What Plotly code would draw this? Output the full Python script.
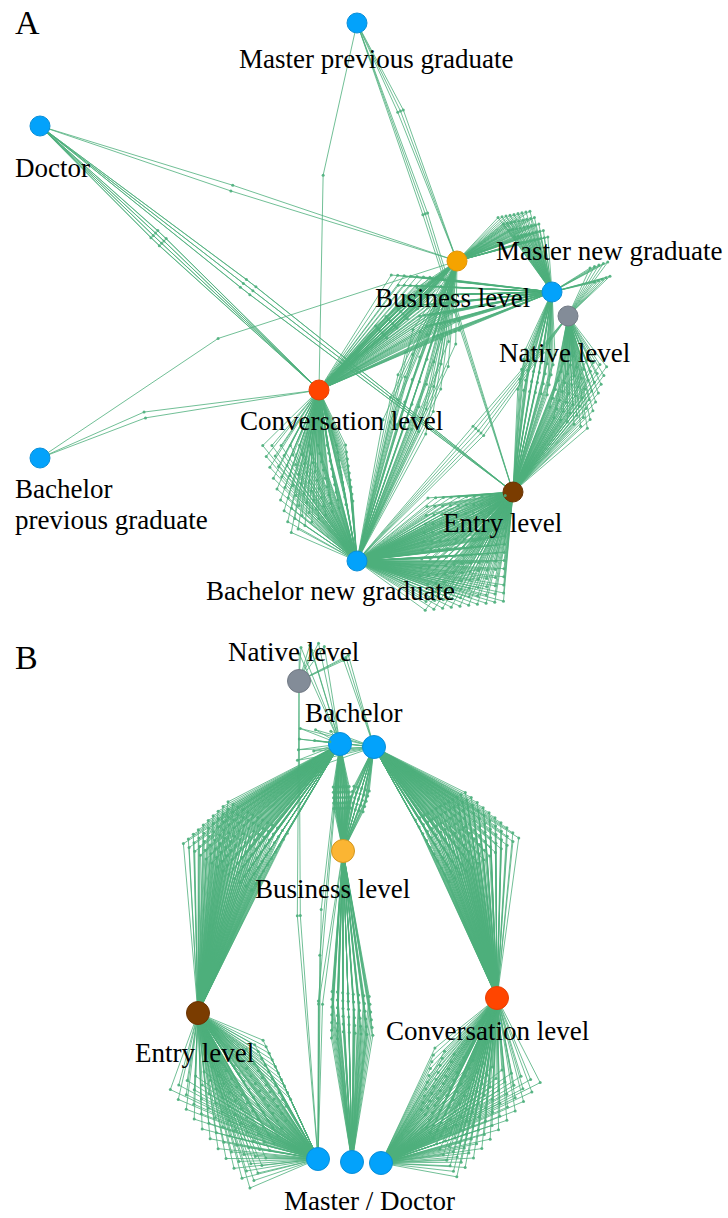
import numpy as np
import plotly.graph_objects as go

# ---------------- data ----------------
NODE_ID = ["MPG", "DOC", "BUS_A", "MNG", "NAT_A", "CONV_A", "BPG", "ENT_A", "BNG",
           "NAT_B", "BACH1", "BACH2", "BUS_B", "ENT_B", "CONV_B", "MD1", "MD2", "MD3"]
NODE_LABEL = ["Master previous graduate", "Doctor", "Business level", "Master new graduate",
              "Native level", "Conversation level", "Bachelor\nprevious graduate", "Entry level",
              "Bachelor new graduate",
              "Native level", "Bachelor", "", "Business level", "Entry level",
              "Conversation level", "", "Master / Doctor", ""]
NODE_KIND = ["degree", "degree", "business", "degree", "native", "conversation", "degree", "entry",
             "degree",
             "native", "degree", "degree", "business_b", "entry", "conversation", "degree",
             "degree", "degree"]
# layout coordinates of the network drawing
NODE_X = [357, 40, 457, 552, 568, 319, 40, 513, 357,
          299, 340, 374, 343, 198, 497, 318, 352, 381]
NODE_Y = [23, 126, 261, 292, 316, 390, 458, 492, 561,
          681, 744, 747, 851, 1013, 998, 1159, 1162, 1163]

EDGE_SRC = ["DOC", "DOC", "DOC", "MPG", "MPG", "MPG", "BPG", "BPG", "BUS_A", "MNG",
            "CONV_A", "CONV_A", "NAT_A", "MNG", "ENT_A", "CONV_A", "BUS_A", "NAT_A",
            "BACH1", "BACH2", "BACH1", "BACH2", "BUS_B", "ENT_B", "CONV_B", "NAT_B",
            "NAT_B", "NAT_B", "BACH1", "BACH2", "BUS_B"]
EDGE_DST = ["CONV_A", "ENT_A", "BUS_A", "CONV_A", "BUS_A", "ENT_A", "CONV_A", "BUS_A", "MNG",
            "NAT_A", "MNG", "BUS_A", "ENT_A", "ENT_A", "BNG", "BNG", "BNG", "BNG",
            "ENT_B", "CONV_B", "BUS_B", "BUS_B", "MD2", "MD1", "MD3", "BACH1",
            "BACH2", "MD1", "MD1", "BACH1", "MD1"]
EDGE_COUNT = [8, 6, 2, 1, 3, 3, 2, 1, 45, 10,
              55, 30, 55, 30, 150, 90, 35, 5,
              130, 130, 40, 25, 50, 130, 130, 6,
              3, 2, 3, 12, 2]

PANEL_LETTERS = ["A", "B"]

# ---------------- style ----------------
# bend-point regions for each bundle: quad corners (t along edge fraction, s perpendicular px), rows
BEND = [
    (((0.41, -5), (0.41, 5), (0.44, -5), (0.44, 5)), 2),
    (((0.43, -5), (0.43, 5), (0.45, -5), (0.45, 5)), 2),
    (((0.46, -3), (0.46, 3), (0.46, -3), (0.46, 3)), 1),
    (((0.42, -18), (0.42, -18), (0.42, -18), (0.42, -18)), 1),
    (((0.38, 3), (0.38, 9), (0.38, 3), (0.38, 9)), 1),
    (((0.41, 2), (0.41, 7), (0.41, 2), (0.41, 7)), 1),
    (((0.39, 14), (0.39, 20), (0.39, 14), (0.39, 20)), 1),
    (((0.46, 32), (0.46, 32), (0.46, 32), (0.46, 32)), 1),
    (((0.256, 54), (0.539, 70), (0.543, 37), (0.79, 51)), 5),
    (((0.04, 45), (0.21, 63), (0.54, 41), (0.66, 57)), 2),
    (((0.44, 78), (0.6, 58), (0.5, 5), (0.62, 0)), 7),
    (((0.45, -8), (0.45, 8), (0.75, -8), (0.75, 8)), 5),
    (((0.2, 52), (0.2, 10), (0.55, 52), (0.55, 10)), 8),
    (((0.3, -15), (0.3, 15), (0.5, -15), (0.5, 15)), 5),
    (((0.05, 0), (0.31, 96), (0.47, -29), (0.8, 70)), 11),
    (((0.24, -67), (0.34, 14), (0.76, -58), (0.66, 9)), 9),
    (((0.25, -20), (0.25, 25), (0.55, -20), (0.55, 25)), 5),
    (((0.45, 0), (0.45, 14), (0.45, 0), (0.45, 14)), 1),
    (((0.34, -72), (0.34, -5), (0.53, -92), (0.56, -10)), 10),
    (((0.29, 62), (0.3, 5), (0.52, 90), (0.55, 8)), 10),
    (((0.4, -8), (0.4, 8), (0.6, -8), (0.6, 8)), 5),
    (((0.4, -8), (0.4, 8), (0.6, -8), (0.6, 8)), 5),
    (((0.45, -15), (0.47, 22), (0.6, -17), (0.62, 25)), 7),
    (((0.22, -70), (0.33, 33), (0.89, -71), (0.7, 15)), 11),
    (((0.22, 84), (0.38, -22), (0.84, 70), (0.7, 5)), 11),
    (((-0.36, 20), (-0.28, 37), (-0.3, 15), (-0.2, 40)), 2),
    (((0.2, 45), (0.2, 52), (0.2, 45), (0.2, 52)), 1),
    (((0.49, -11), (0.49, -8), (0.49, -11), (0.49, -8)), 1),
    (((0.4, -10), (0.62, -8), (0.4, -10), (0.62, -8)), 1),
    (((1.3, -12), (1.3, 20), (2.2, -12), (2.2, 20)), 3),
    (((0.5, -12), (0.5, -8), (0.5, -12), (0.5, -8)), 1),
]

KIND_FILL = {"degree": "#03a2fb", "business": "#f5a300", "business_b": "#fbb533",
             "native": "#838c98", "conversation": "#ff4500", "entry": "#7a3c00"}
KIND_LINE = {"degree": "#0a8fd8", "business": "#e0950a", "business_b": "#d2961e",
             "native": "#737b86", "conversation": "#e84004", "entry": "#6a3403"}
# label offsets (dx, dy, xanchor) relative to node
LABEL_OFF = {"MPG": (19, 36, "center"), "DOC": (-27, 42, "left"), "BUS_A": (-5, 37, "center"),
             "MNG": (57, -41, "center"), "NAT_A": (-4, 37, "center"), "CONV_A": (22, 31, "center"),
             "BPG": (-27, 31, "left"), "ENT_A": (-11, 31, "center"), "BNG": (-27, 30, "center"),
             "NAT_B": (-6, -29, "center"), "BACH1": (13, -31, "center"), "BUS_B": (-11, 38, "center"),
             "ENT_B": (-4, 40, "center"), "CONV_B": (-10, 33, "center"), "MD2": (17, 39, "center")}
LINE_GAP = 31
EDGE_COLOR = "rgba(77,175,124,0.8)"
FONT = "Liberation Serif, Times New Roman, serif"

pos = {nid: np.array([x, y], float) for nid, x, y in zip(NODE_ID, NODE_X, NODE_Y)}


def bend_points(p, q, count, quad, rows):
    d = q - p
    L = np.hypot(*d)
    n = np.array([d[1], -d[0]]) / L
    cols = int(np.ceil(count / rows))
    (ta, sa), (tb, sb), (tc, sc), (td, sd) = quad
    pts = []
    for i in range(rows):
        a = i / (rows - 1) if rows > 1 else 0.0
        for j in range(cols):
            b = j / (cols - 1) if cols > 1 else 0.0
            t = (1 - a) * (1 - b) * ta + (1 - a) * b * tb + a * (1 - b) * tc + a * b * td
            s = (1 - a) * (1 - b) * sa + (1 - a) * b * sb + a * (1 - b) * sc + a * b * sd
            pts.append(p + t * d + s * n)
    return pts[:count]


ex, ey, wx, wy = [], [], [], []
for src, dst, cnt, (quad, rows) in zip(EDGE_SRC, EDGE_DST, EDGE_COUNT, BEND):
    p, q = pos[src], pos[dst]
    for w in bend_points(p, q, cnt, quad, rows):
        ex += [p[0], w[0], q[0], None]
        ey += [p[1], w[1], q[1], None]
        wx.append(w[0])
        wy.append(w[1])

fig = go.Figure()
fig.add_trace(go.Scatter(x=ex, y=ey, mode="lines", line=dict(color=EDGE_COLOR, width=1),
                         hoverinfo="skip"))

sizes = [20 if nid in ("MPG", "DOC", "BUS_A", "MNG", "NAT_A", "CONV_A", "BPG", "ENT_A", "BNG") else 23
         for nid in NODE_ID]
fig.add_trace(go.Scatter(
    x=NODE_X, y=NODE_Y, mode="markers",
    marker=dict(size=sizes, opacity=1, color=[KIND_FILL[k] for k in NODE_KIND],
                line=dict(color=[KIND_LINE[k] for k in NODE_KIND], width=1)),
    hoverinfo="skip"))
fig.add_trace(go.Scatter(x=wx, y=wy, mode="markers",
                         marker=dict(size=3, opacity=1, color="rgba(77,175,124,0.9)"),
                         hoverinfo="skip"))

anns = []
for nid, lab in zip(NODE_ID, NODE_LABEL):
    if not lab:
        continue
    dx, dy, xa = LABEL_OFF[nid]
    for k, line in enumerate(lab.split("\n")):
        anns.append(dict(x=pos[nid][0] + dx, y=pos[nid][1] + dy + k * LINE_GAP, text=line,
                         xanchor=xa, yanchor="middle", showarrow=False,
                         font=dict(family=FONT, size=27, color="black")))
for letter, yy in zip(PANEL_LETTERS, [22, 657]):
    anns.append(dict(x=13, y=yy, text=letter, xanchor="left", yanchor="middle", showarrow=False,
                     font=dict(family=FONT, size=34, color="black")))

fig.update_layout(
    width=728, height=1218, margin=dict(l=0, r=0, t=0, b=0),
    xaxis=dict(range=[0, 728], visible=False, fixedrange=True),
    yaxis=dict(range=[1218, 0], visible=False, fixedrange=True),
    plot_bgcolor="white", paper_bgcolor="white", showlegend=False,
    annotations=anns,
)
fig.write_html("out.html", config={"displayModeBar": False},
               post_script="document.body.style.margin='0';")
